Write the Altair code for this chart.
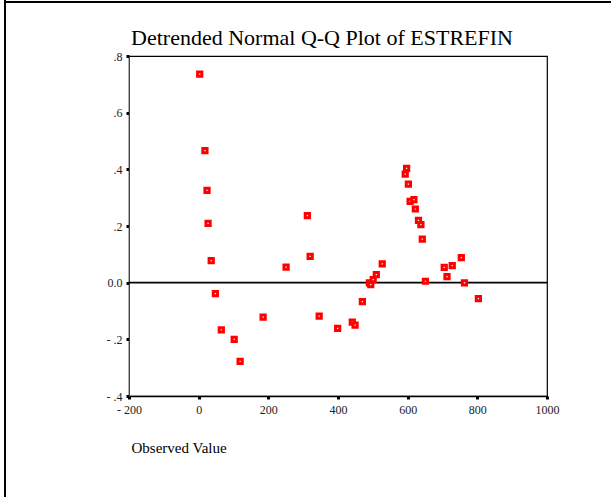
import altair as alt
import pandas as pd

# Observed values and their deviation from the normal expectation
observed = [3, 18, 24, 27, 36, 48, 65, 102, 119, 185, 251, 312, 320, 346, 399,
            441, 449, 470, 490, 494, 501, 510, 527, 597, 593, 602, 607, 618,
            622, 631, 638, 642, 651, 705, 713, 728, 754, 763, 803]
deviation = [0.736, 0.466, 0.326, 0.209, 0.078, -0.039, -0.167, -0.200, -0.278,
             -0.122, 0.055, 0.237, 0.093, -0.118, -0.161, -0.139, -0.150,
             -0.067, -0.001, -0.007, 0.011, 0.028, 0.066, 0.403, 0.383, 0.348,
             0.287, 0.293, 0.260, 0.220, 0.205, 0.154, 0.005, 0.054, 0.021,
             0.060, 0.088, -0.001, -0.056]

x_ticks = [-200, 0, 200, 400, 600, 800, 1000]
y_ticks = [-0.4, -0.2, 0.0, 0.2, 0.4, 0.6, 0.8]

title_text = "Detrended Normal Q-Q Plot of ESTREFIN"

df = pd.DataFrame({"obs": observed, "dev": deviation})

SERIF = "Liberation Serif"
W, H = 418, 340
PAD = {"left": 129, "top": 56, "right": 64, "bottom": 101}

x_enc = alt.X(
    "obs:Q",
    scale=alt.Scale(domain=[-200, 1000], nice=False, zero=False),
    axis=alt.Axis(
        values=x_ticks, grid=False, title="Observed Value",
        titleFont=SERIF, titleFontSize=15, titleFontWeight="normal",
        titleColor="black", titleAnchor="start", titleAlign="left",
        titleBaseline="alphabetic", titleX=2, titleY=56,
        labelFont=SERIF, labelFontSize=12, labelColor="#222",
        labelFlush=False, labelOverlap=False,
        labelPadding=5, tickSize=3, tickWidth=3, tickColor="black",
        domainColor="black", domainWidth=1.5,
        labelExpr="datum.value < 0 ? '- ' + format(-datum.value, 'd') : format(datum.value, 'd')",
    ),
)
y_enc = alt.Y(
    "dev:Q",
    scale=alt.Scale(domain=[-0.4, 0.8], nice=False, zero=False),
    axis=alt.Axis(
        values=y_ticks, grid=False, title=None,
        labelFont=SERIF, labelFontSize=12, labelColor="#222",
        labelFlush=False, labelOverlap=False,
        labelPadding=4, tickSize=3, tickWidth=3, tickColor="black",
        domainColor="#444", domainWidth=1,
        labelExpr="datum.value == 0 ? '0.0' : (datum.value < 0 ? '- ' + replace(format(-datum.value, '.1f'), '0.', '.') : replace(format(datum.value, '.1f'), '0.', '.'))",
    ),
)

points = alt.Chart(df).mark_point(
    shape="square", size=18, filled=False, fill="white", fillOpacity=1,
    stroke="#ff0000", strokeWidth=3, opacity=1,
).encode(x=x_enc, y=y_enc)

zero_line = alt.Chart(pd.DataFrame({"y": [0.0]})).mark_rule(
    color="black", strokeWidth=1.6
).encode(y="y:Q")

title = alt.Chart(pd.DataFrame({"t": [title_text]})).mark_text(
    font=SERIF, fontSize=22, color="black", align="center", baseline="alphabetic"
).encode(x=alt.value(193), y=alt.value(-11), text="t:N")

# outer page border (top and left)
border_top = alt.Chart(pd.DataFrame({"a": [0]})).mark_rule(
    color="black", strokeWidth=2
).encode(x=alt.value(-124), x2=alt.value(482), y=alt.value(-54))
border_left = alt.Chart(pd.DataFrame({"a": [0]})).mark_rule(
    color="black", strokeWidth=2
).encode(x=alt.value(-124), y=alt.value(-56), y2=alt.value(441))

chart = alt.layer(zero_line, points, title, border_top, border_left).properties(
    width=W, height=H,
    padding=PAD,
    autosize=alt.AutoSizeParams(type="none"),
    background="white",
).configure_view(stroke="black", strokeWidth=1.2)

chart.save("out.html", embed_options={"renderer": "svg", "actions": False})
